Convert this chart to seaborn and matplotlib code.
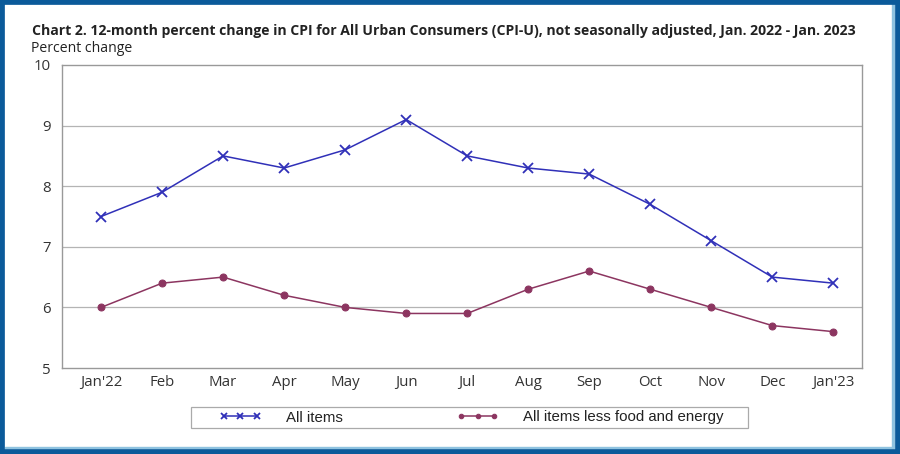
import pandas as pd
import seaborn as sns
import matplotlib.pyplot as plt
from matplotlib.patches import Rectangle
from matplotlib.legend_handler import HandlerLine2D

months = ["Jan'22", "Feb", "Mar", "Apr", "May", "Jun", "Jul", "Aug", "Sep", "Oct", "Nov", "Dec", "Jan'23"]
all_items = [7.5, 7.9, 8.5, 8.3, 8.6, 9.1, 8.5, 8.3, 8.2, 7.7, 7.1, 6.5, 6.4]
core = [6.0, 6.4, 6.5, 6.2, 6.0, 5.9, 5.9, 6.3, 6.6, 6.3, 6.0, 5.7, 5.6]

df = pd.DataFrame({"MES": range(len(months)), "All items": all_items,
                   "All items less food and energy": core})

sns.set_style("white")
plt.rcParams["font.family"] = ["Open Sans", "DejaVu Sans"]

fig = plt.figure(figsize=(9, 4.54), dpi=100)
ax = fig.add_axes([62 / 900, 1 - 368 / 454, 800 / 900, 303 / 454])

blue = "#3030b8"
maroon = "#8c3560"
sns.lineplot(data=df, x="MES", y="All items", ax=ax, color=blue, lw=1.1,
             marker="x", markersize=7, mew=1.3, mec=blue, label="All items")
sns.lineplot(data=df, x="MES", y="All items less food and energy", ax=ax, color=maroon,
             lw=1.1, marker="o", markersize=5, mec=maroon, label="All items less food and energy")

ax.set_ylim(5, 10)
ax.set_xlim(-0.64, 12.47)
ax.set_yticks([5, 6, 7, 8, 9, 10])
ax.set_xticks(range(len(months)))
ax.set_xticklabels(months)
for y in [6, 7, 8, 9]:
    ax.axhline(y, color="#b4b4b4", lw=0.9, zorder=0)
ax.tick_params(axis="both", labelsize=10.8, colors="#333333", width=0.8)
ax.tick_params(axis="y", length=0, pad=8)
ax.tick_params(axis="x", direction="in", length=3, pad=5)
for s in ax.spines.values():
    s.set_color("#999999")
    s.set_linewidth(1.0)
ax.set_xlabel("")
ax.set_ylabel("")

# legend: frameless, box drawn separately
leg = fig.legend(*ax.get_legend_handles_labels(), loc="center left",
                 bbox_to_anchor=(213 / 900, 1 - 417.5 / 454), ncol=2, frameon=False,
                 fontsize=10.8, columnspacing=7.2, handlelength=3.6, handletextpad=1.25,
                 borderpad=0, borderaxespad=0, markerscale=0.65,
                 handler_map={plt.Line2D: HandlerLine2D(numpoints=3, marker_pad=0.7)})
ax.get_legend().remove()
for t in leg.get_texts():
    t.set_family(["Liberation Sans", "DejaVu Sans"])
    t.set_color("#222222")
fig.patches.append(Rectangle((191 / 900, 1 - 428 / 454), 557 / 900, 21 / 454,
                             transform=fig.transFigure, fill=False, edgecolor="#aaaaaa", lw=0.9))

fig.text(32 / 900, 1 - 31 / 454, "Chart 2. 12-month percent change in CPI for All Urban Consumers (CPI-U), "
         "not seasonally adjusted, Jan. 2022 - Jan. 2023", fontsize=10.1, fontweight="bold",
         color="#222222", va="center")
fig.text(31 / 900, 1 - 49 / 454, "Percent change", fontsize=10.1, color="#222222", va="center")

fig.patches.append(Rectangle((0, 0), 1, 1, transform=fig.transFigure, fill=False,
                             edgecolor="#0b5a9a", lw=7, zorder=10))
fig.patches.append(Rectangle((5 / 900, 6 / 454), 888 / 900, 1.5 / 454, transform=fig.transFigure,
                             color="#8fc3e0", zorder=9))
fig.patches.append(Rectangle((892 / 900, 6 / 454), 1.5 / 900, 444 / 454, transform=fig.transFigure,
                             color="#8fc3e0", zorder=9))

fig.savefig("out.png", dpi=100)
